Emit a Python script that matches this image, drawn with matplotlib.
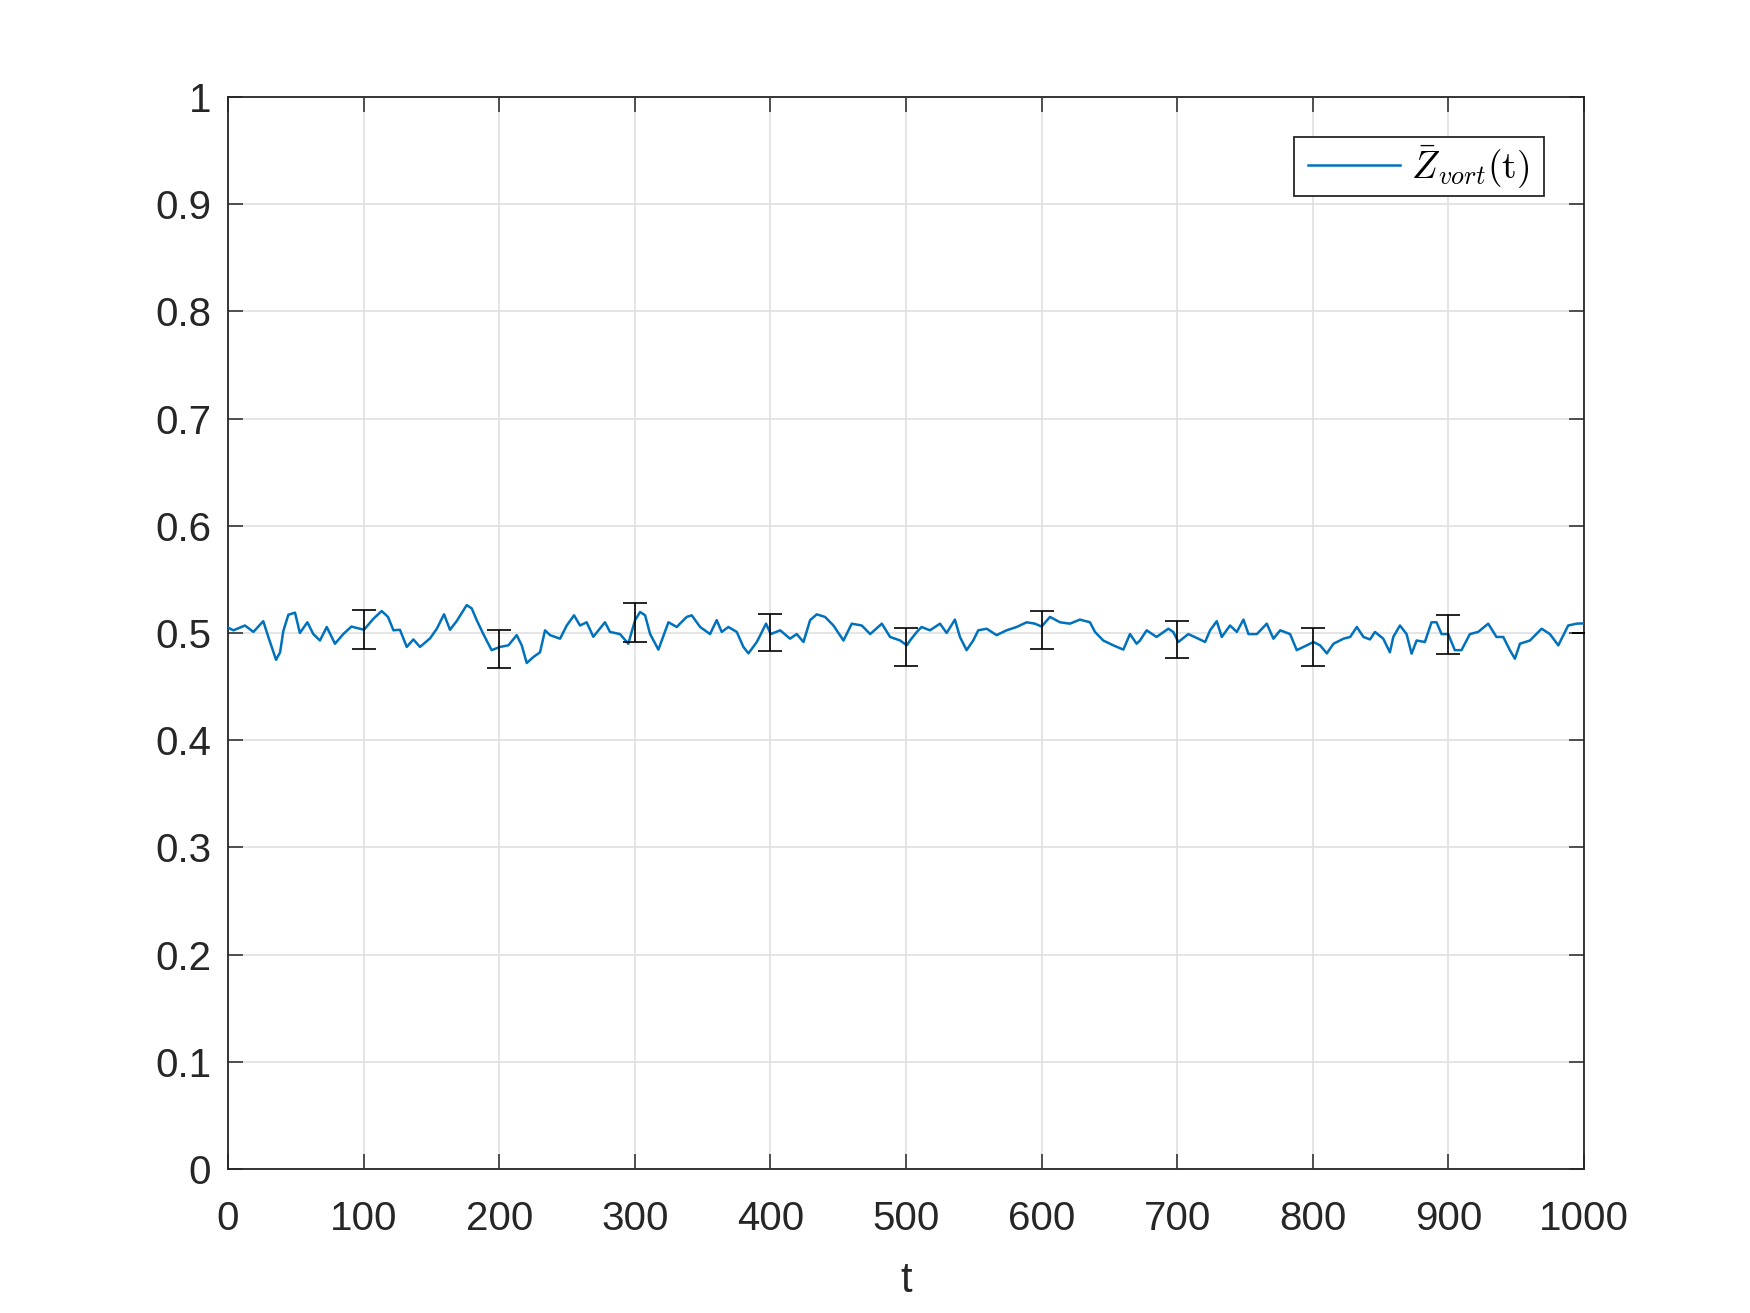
import matplotlib
matplotlib.use("Agg")
import matplotlib.pyplot as plt
from matplotlib.patches import Rectangle

t = [0, 4, 12.5, 18.7, 26, 29.8, 35.4, 38.4, 40.8, 44.5, 49.4, 53, 58.5, 62.9, 67.8, 72.8, 78.9, 85, 91, 97.3,
     100.3, 107, 113.3, 118, 122, 126.8, 131.8, 136.7, 141.6, 149, 154, 159.3, 163.7, 168.6, 176, 179.7, 183.4, 188.3, 194.4,
     200.6, 206.8, 212.9, 216.6, 220.3, 225.2, 230.1, 233.8, 237.5, 244.9, 249.8, 255.2, 259.6, 264.5, 269.4, 278, 281.7, 289.1, 295.2,
     300.2, 303.9, 307.6, 311.3, 317.4, 324.8, 331, 333.3, 338.3, 342, 348.2, 355.5, 360.4, 364.1, 369, 375.2, 380.1, 383.8, 390, 396.8,
     400.3, 407.2, 414.5, 419.4, 424.4, 429.3, 434.2, 440.3, 446.5, 453.9, 460, 467.4, 473.6, 482.2, 488.3, 495.7,
     500.6, 503, 508, 511.5, 517.7, 525.1, 530, 536.1, 539.8, 544.7, 549.6, 553.3, 559.5, 566.8, 574.2, 581.6, 589, 595.1,
     600, 606.2, 613.6, 620.9, 628.3, 635.7, 639.4, 645.5, 652.9, 660.3, 665.2, 670.1, 672.6, 677.5, 684.8, 693.5, 697.1,
     700.9, 708.2, 715.6, 720.6, 724.3, 729.2, 732.9, 739, 744, 748.9, 752.6, 758.8, 766.1, 771, 776, 783.3, 788.2, 795.6,
     800.5, 805.4, 810.4, 815.3, 822.7, 827.6, 832.5, 837.4, 842.2, 845.9, 852, 856.9, 859.4, 864.3, 869.2, 872.9, 876.6, 882.7, 887.6, 891.3, 895,
     899.9, 904.8, 909.7, 915.9, 922, 929.4, 935.5, 940.5, 945.4, 949.1, 952.8, 960.2, 968.8, 974.9, 981.1, 988.4, 994.6, 1000]
z = [0.505, 0.5025, 0.507, 0.501, 0.511, 0.496, 0.475, 0.482, 0.502, 0.517, 0.519, 0.500, 0.510, 0.499, 0.493, 0.5056, 0.490, 0.499, 0.506, 0.504,
     0.503, 0.513, 0.5205, 0.515, 0.5025, 0.503, 0.487, 0.494, 0.487, 0.495, 0.504, 0.5175, 0.503, 0.511, 0.526, 0.523, 0.512, 0.499, 0.484,
     0.487, 0.4885, 0.498, 0.4885, 0.472, 0.4776, 0.482, 0.5025, 0.498, 0.4947, 0.507, 0.5165, 0.507, 0.510, 0.4965, 0.510, 0.501, 0.499, 0.490,
     0.512, 0.5196, 0.5165, 0.499, 0.4845, 0.510, 0.5056, 0.5087, 0.515, 0.5165, 0.5056, 0.499, 0.512, 0.501, 0.5056, 0.501, 0.487, 0.481, 0.4916, 0.5087,
     0.499, 0.5025, 0.4947, 0.499, 0.4916, 0.512, 0.5174, 0.515, 0.507, 0.493, 0.5087, 0.507, 0.499, 0.5087, 0.4963, 0.493,
     0.4885, 0.493, 0.501, 0.5056, 0.5025, 0.5087, 0.500, 0.5125, 0.4963, 0.484, 0.493, 0.5025, 0.504, 0.498, 0.5025, 0.5056, 0.510, 0.5087,
     0.506, 0.515, 0.510, 0.5087, 0.5125, 0.510, 0.501, 0.493, 0.4885, 0.4845, 0.499, 0.490, 0.493, 0.5025, 0.4963, 0.504, 0.501,
     0.4916, 0.499, 0.4947, 0.4916, 0.5025, 0.511, 0.4963, 0.507, 0.501, 0.5125, 0.499, 0.499, 0.5087, 0.4947, 0.5025, 0.499, 0.484, 0.4885,
     0.4916, 0.4885, 0.481, 0.490, 0.4947, 0.4963, 0.5056, 0.4963, 0.494, 0.501, 0.4947, 0.482, 0.4963, 0.507, 0.499, 0.4807, 0.493, 0.4916, 0.510, 0.510, 0.499,
     0.499, 0.484, 0.484, 0.499, 0.501, 0.5087, 0.4963, 0.4963, 0.484, 0.476, 0.490, 0.493, 0.504, 0.499, 0.4885, 0.507, 0.5087, 0.509]

err_t = [100, 200, 300, 400, 500, 600, 700, 800, 900, 1000]
err_mean = [0.5035, 0.485, 0.510, 0.5005, 0.487, 0.5027, 0.494, 0.487, 0.4986, 0.5]
err_half = [0.018, 0.0174, 0.018, 0.0175, 0.0176, 0.0179, 0.0176, 0.0176, 0.0179, 0.0]

xticks = list(range(0, 1001, 100))
yticks = [round(0.1 * i, 1) for i in range(11)]
ytick_labels = ["0", "0.1", "0.2", "0.3", "0.4", "0.5", "0.6", "0.7", "0.8", "0.9", "1"]

plt.rcParams['font.family'] = ['Liberation Sans', 'DejaVu Sans']
plt.rcParams['mathtext.fontset'] = 'cm'

dark = '#262626'
W, H = 1750, 1313
fig = plt.figure(figsize=(17.5, 13.13), dpi=100)
ax = fig.add_axes([0.1303, 0.1097, 0.7748, 0.8164])

ax.plot(t, z, color='#0072BD', lw=1.8, label=r'$\bar{Z}_{vort}(\mathrm{t})$', zorder=3)
ax.errorbar(err_t, err_mean, yerr=err_half, fmt='none', ecolor='black', elinewidth=1.2,
            capsize=8.8, capthick=1.2, zorder=4)

ax.set_xlim(0, 1000)
ax.set_ylim(0, 1)
ax.set_xticks(xticks)
ax.set_yticks(yticks)
ax.set_yticklabels(ytick_labels)
ax.grid(True, color='#e0e0e0', lw=1.2)
ax.set_axisbelow(True)
ax.tick_params(direction='in', length=11, width=1.1, colors=dark, labelsize=29,
               top=True, right=True)
ax.tick_params(axis='x', pad=22)
ax.tick_params(axis='y', pad=12)
for s in ax.spines.values():
    s.set_color(dark)
    s.set_linewidth(1.3)
ax.set_xlabel('t', fontsize=30, color=dark, labelpad=17)

# legend frame
frame = Rectangle((1294 / W, 1 - 196 / H), 250 / W, 59 / H, transform=fig.transFigure,
                  facecolor='white', edgecolor=dark, lw=1.3, zorder=5, clip_on=False)
ax.add_patch(frame)
leg = ax.legend(loc='center left', fontsize=27, frameon=False, handlelength=2.45,
                handletextpad=0.3, borderpad=0, borderaxespad=0,
                bbox_to_anchor=(1308 / W, 1 - 167 / H), bbox_transform=fig.transFigure)
leg.set_zorder(6)

fig.savefig('out.png', dpi=100, facecolor='white')
